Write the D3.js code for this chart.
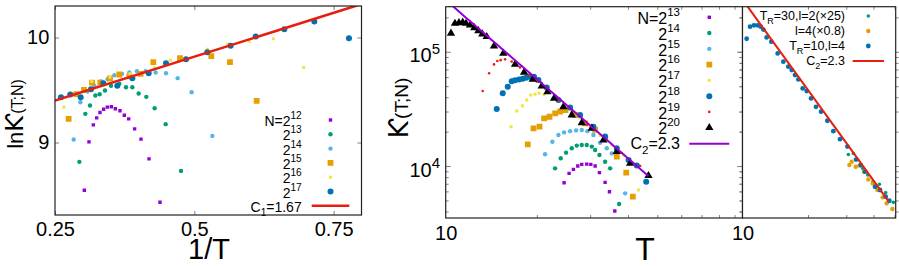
<!DOCTYPE html>
<html>
<head>
<meta charset="utf-8">
<script src="https://cdn.jsdelivr.net/npm/d3@7"></script>
<style>
  body { margin: 0; background: #fff; }
</style>
</head>
<body>
<script>
// ---------- panel 1 : ln K(T;N) against 1/T ----------
const p1N12 = [[0.3026,8.546],[0.3110,9.006],[0.3188,9.168],[0.3248,9.235],[0.3307,9.286],[0.3373,9.317],[0.3439,9.337],[0.3511,9.340],[0.3583,9.321],[0.3666,9.302],[0.3744,9.260],[0.3822,9.225],[0.3929,9.130],[0.4043,9.032],[0.4187,8.844],[0.4384,8.432]];
const p1N13 = [[0.2937,8.816],[0.3044,9.273],[0.3128,9.352],[0.3224,9.448],[0.3301,9.460],[0.3397,9.495],[0.3505,9.540],[0.3654,9.559],[0.3774,9.527],[0.3888,9.527],[0.4001,9.467],[0.4139,9.435],[0.4288,9.327],[0.4486,9.175],[0.4761,8.730]];
const p1N14 = [[0.2835,9.029],[0.2955,9.384],[0.3080,9.486],[0.3206,9.540],[0.3325,9.581],[0.3445,9.603],[0.3565,9.641],[0.3702,9.654],[0.3834,9.667],[0.3971,9.679],[0.4127,9.679],[0.4306,9.667],[0.4492,9.660],[0.4701,9.613],[0.4952,9.479],[0.5323,9.063]];
const p1N15 = [[0.2745,9.225],[0.2883,9.460],[0.3020,9.502],[0.3164,9.571],[0.3313,9.571],[0.3487,9.610],[0.3654,9.648],[0.3834,9.629],[0.4037,9.654],[0.4264,9.765],[0.4743,9.803],[0.5305,9.822],[0.5640,9.765],[0.6119,9.397]];
const p1N16 = [[0.2661,9.337],[0.2799,9.463],[0.3158,9.581],[0.3487,9.622],[0.3846,9.654],[0.4282,9.711],[0.4570,9.784],[0.5233,9.889],[0.5598,9.937],[0.5987,9.965],[0.6418,9.987],[0.6962,9.714]];
const p1N17 = [[0.2608,9.432],[0.2775,9.457],[0.2961,9.432],[0.3146,9.508],[0.3367,9.565],[0.3618,9.540],[0.3888,9.613],[0.4181,9.660],[0.4492,9.756],[0.4851,9.794],[0.5233,9.860],[0.5652,9.921],[0.6101,10.010],[0.6615,10.079],[0.7153,10.152],[0.7775,9.994]];
const p1Exps = ['12','13','14','15','16','17'];
const p1C1 = 1.67, p1Icpt = 8.9825;
const p1XTicks = [0.25, 0.5, 0.75], p1YTicks = [9, 10];

// ---------- panel 2 : K(T;N) against T, log-log ----------
const p2N13 = [[24.61,7140],[25.56,8630],[26.42,9350],[27.31,10000],[28.15,10350],[29.24,10400],[30.15,10350],[31.16,10000],[32.20,8750],[33.62,7200],[34.75,5960],[36.19,4040]];
const p2N14 = [[22.98,9550],[23.99,11700],[24.98,13100],[26.09,14300],[27.10,15100],[28.15,15300],[29.24,15300],[30.38,14800],[31.16,13800],[32.20,12500],[33.62,10900],[34.93,9550],[37.40,4660]];
const p2N15 = [[21.29,12700],[22.51,16300],[23.57,18700],[24.61,19700],[25.76,20200],[26.96,20500],[28.15,20700],[29.39,20200],[30.76,18700],[32.37,16000],[34.05,14300],[35.38,12900],[39.15,5770]];
const p2N16 = [[18.67,15500],[19.50,21400],[20.41,22100],[21.14,26100],[22.02,27000],[22.99,28900],[23.88,29900],[24.87,30900],[26.77,27900],[28.88,23600],[31.17,20700],[33.63,17500],[36.75,12100],[39.48,8750],[41.52,5390]];
const p2N17 = [[16.44,22100],[17.17,30300],[17.92,33700],[18.52,37800],[19.09,41800],[19.73,42400],[20.35,43300],[21.13,42100],[23.87,37200],[25.76,31300],[27.80,26300],[29.99,22100],[32.37,18500],[35.38,15200],[38.67,12400],[43.34,6170]];
const p2N18 = [[14.74,31600],[15.43,43300],[16.03,49500],[16.52,55100],[16.95,56200],[17.47,57300],[17.96,58100],[18.43,59300],[19.00,60500],[19.58,60500],[20.24,56500],[21.57,48800],[23.57,37800],[25.76,32600],[27.80,27900],[30.76,22100],[33.62,18100],[36.74,14300],[40.17,11300],[42.79,10100],[45.95,7300]];
const p2N19 = [[13.25,45300],[13.91,64800],[14.44,77500],[14.81,83000],[15.19,84500],[15.71,85800],[16.52,82000],[17.60,73000],[18.76,63000],[19.99,55000],[21.57,46500],[23.57,37500],[26.09,29500],[29.24,23000],[33.19,17600],[38.18,13000],[43.89,10000],[46.75,8230]];
const p2N20 = [[10.41,144900],[10.73,177000],[11.06,179500],[11.38,180800],[11.67,177000],[12.03,171300],[12.43,162300],[12.82,152800],[13.21,142900],[13.66,135500],[14.44,112200],[15.50,96800],[16.95,77600],[18.15,66000],[19.39,57300],[20.76,50100],[21.68,44700],[22.80,39100],[24.48,33000],[26.09,27900],[28.15,23900],[30.38,21400],[33.19,16900],[36.74,13400],[40.67,10550],[46.75,8230]];
const p2Exps = ['13','14','15','16','17','18','19','20'];
const p2C2 = 2.3, p2Amp = 5.66e7, p2TEnd = 46.75;
const p2XTicks = [10], p2YTicks = [1e4, 1e5];

// ---------- panel 3 : comparison runs ----------
const p3TR30 = [[30.66,12600],[32.33,12900],[33.73,11400],[35.69,9540],[37.63,8340],[39.68,7290],[42.57,6920],[45.51,5850],[49.38,4810]];
const p3L4 = [[30.99,10200],[31.76,10900],[33.14,9870],[34.44,10100],[36.19,8920],[37.89,7640],[39.68,7050],[41.70,6170],[44.10,5320],[46.00,4720],[48.85,4210]];
const p3TR10 = [[10.45,130000],[10.83,165700],[11.29,170300],[11.70,170300],[12.12,165700],[12.47,156300],[12.91,133600],[13.57,122500],[14.51,96800],[15.41,81900],[16.24,74000],[16.83,69200],[17.43,62500],[18.06,57300],[18.91,47800],[19.72,45300],[20.65,39100],[21.77,33000],[22.96,29900],[24.55,24900],[26.16,20200],[28.07,17200],[30.34,14800],[33.25,11400],[34.94,10200],[36.58,8920],[40.66,6590],[42.87,6170],[45.51,5390],[47.31,4970]];
const p3Fit = [[10.52,251000],[46.84,4940]];
const p3XTicks = [10];

const FONT = '"Liberation Sans", Arial, Helvetica, sans-serif';
const KFONT = '"DejaVu Sans", sans-serif';
const col = {purple:'#9400d3', green:'#009e73', sky:'#56b4e9', orange:'#e69f00',
             yellow:'#f0e442', blue:'#0072b2', red:'#e51e10', black:'#000000'};
const mk = {
    sqS:{shape:'square', s:3.4}, cM:{shape:'circle', r:2.2}, sqL:{shape:'square', s:5.8},
    sqXS:{shape:'square', s:3}, cL:{shape:'circle', r:3}, cXS:{shape:'circle', r:1.3},
    tri:{shape:'triangle', size:30}, cS:{shape:'circle', r:1.8}, cM2:{shape:'circle', r:2.4}
};

const svg = d3.select('body').append('svg')
    .attr('width', 899).attr('height', 266)
    .style('font-family', FONT);
svg.append('rect').attr('width', 899).attr('height', 266).attr('fill', '#fff');

function drawMarker(g, m, color, cx, cy) {
    if (m.shape === 'circle') {
        g.append('circle').attr('cx', cx).attr('cy', cy).attr('r', m.r).attr('fill', color);
    } else {
        const sym = m.shape === 'square' ? d3.symbolSquare : d3.symbolTriangle;
        const size = m.shape === 'square' ? m.s * m.s : m.size;
        g.append('path').attr('d', d3.symbol(sym, size)())
            .attr('transform', `translate(${cx},${cy})`).attr('fill', color);
    }
}

// text with sub/superscripts, parts = [{t, sup, sub, size, font}]
function rich(g, x, y, parts, size, anchor) {
    const t = g.append('text').attr('x', x).attr('y', y)
        .attr('font-size', size).attr('text-anchor', anchor || 'end')
        .attr('font-family', FONT).attr('fill', '#000');
    let shift = 0;
    parts.forEach(p => {
        const target = p.sup ? -size * 0.5 : p.sub ? size * 0.3 : 0;
        const ts = t.append('tspan').attr('dy', target - shift)
            .attr('font-size', p.size || (p.sup || p.sub ? size * 0.72 : size))
            .text(p.t);
        if (p.font) ts.attr('font-family', p.font);
        shift = target;
    });
    return t;
}

function tickMarks(g, axisFn, scale, vals, len, tx, ty) {
    const a = g.append('g').attr('transform', `translate(${tx},${ty})`)
        .call(axisFn(scale).tickValues(vals).tickSize(-len).tickFormat(''));
    a.select('.domain').remove();
    a.selectAll('.tick line').attr('stroke', '#808080');
    a.selectAll('.tick text').remove();
}

function tickLabels(g, axisFn, scale, vals, pad, tx, ty, size, fmt) {
    const a = g.append('g').attr('transform', `translate(${tx},${ty})`)
        .call(axisFn(scale).tickValues(vals).tickSize(0).tickPadding(pad).tickFormat(fmt));
    a.select('.domain').remove();
    a.selectAll('.tick line').remove();
    a.selectAll('.tick text').attr('font-size', size).attr('font-family', FONT).attr('fill', '#000');
    return a;
}

function logMinor(domain) {
    const out = [];
    for (let e = Math.floor(Math.log10(domain[0])); e <= Math.ceil(Math.log10(domain[1])); e++) {
        for (let m = 2; m < 10; m++) {
            const v = m * Math.pow(10, e);
            if (v > domain[0] && v < domain[1]) out.push(v);
        }
    }
    return out;
}

function makePanel(x, y, id) {
    const [x0, x1] = x.range(), [yb, yt] = y.range();
    const g = svg.append('g');
    g.append('rect').attr('x', x0).attr('y', yt).attr('width', x1 - x0).attr('height', yb - yt).attr('fill', '#fff');
    g.append('clipPath').attr('id', id).append('rect')
        .attr('x', x0).attr('y', yt).attr('width', x1 - x0).attr('height', yb - yt);
    return {g, x0, x1, yb, yt, plot: g.append('g').attr('clip-path', `url(#${id})`)};
}

function frame(P) {
    P.g.append('rect').attr('x', P.x0).attr('y', P.yt).attr('width', P.x1 - P.x0).attr('height', P.yb - P.yt)
        .attr('fill', 'none').attr('stroke', '#222').attr('stroke-width', 1.2);
}

function drawSeries(P, x, y, data, m, color) {
    data.forEach(d => drawMarker(P.plot, m, color, x(d[0]), y(d[1])));
}

// ================= panel 1 =================
const x1 = d3.scaleLinear().domain([0.25, 0.8]).range([55, 361.5]);
const y1 = d3.scaleLinear().domain([8.31, 10.30]).range([215, 6]);
const P1 = makePanel(x1, y1, 'clip1');
const p1Series = [
    {data:p1N12, m:mk.sqS, c:col.purple}, {data:p1N13, m:mk.cM, c:col.green},
    {data:p1N14, m:mk.cM, c:col.sky}, {data:p1N15, m:mk.sqL, c:col.orange},
    {data:p1N16, m:mk.sqXS, c:col.yellow}, {data:p1N17, m:mk.cL, c:col.blue}
];
p1Series.forEach(s => drawSeries(P1, x1, y1, s.data, s.m, s.c));
P1.plot.append('line')
    .attr('x1', x1(0.25)).attr('y1', y1(p1Icpt + p1C1 * 0.25))
    .attr('x2', x1(0.8)).attr('y2', y1(p1Icpt + p1C1 * 0.8))
    .attr('stroke', col.red).attr('stroke-width', 2.6);
tickMarks(P1.g, d3.axisBottom, x1, p1XTicks, 4, 0, 215);
tickMarks(P1.g, d3.axisTop, x1, p1XTicks, 4, 0, 6);
tickMarks(P1.g, d3.axisLeft, y1, p1YTicks, 4, 55, 0);
tickMarks(P1.g, d3.axisRight, y1, p1YTicks, 4, 361.5, 0);
frame(P1);
tickLabels(svg, d3.axisBottom, x1, p1XTicks, 7, 0, 215, 20, d => String(d));
tickLabels(svg, d3.axisLeft, y1, p1YTicks, 5.7, 55, 0, 20, d => String(d));

// legend 1
const leg1 = svg.append('g');
p1Series.forEach((s, i) => {
    const yy = 120 + i * 14.3;
    rich(leg1, 301.7, yy + 6, i === 0 ? [{t:'N=2'}, {t:p1Exps[i], sup:true}] : [{t:'2'}, {t:p1Exps[i], sup:true}], 14);
    drawMarker(leg1, s.m, s.c, 330.5, yy);
});
rich(leg1, 301.7, 205.7 + 6, [{t:'C'}, {t:'1', sub:true}, {t:'=1.67'}], 14);
leg1.append('line').attr('x1', 311.7).attr('x2', 349.3).attr('y1', 205.7).attr('y2', 205.7)
    .attr('stroke', col.red).attr('stroke-width', 2.6);

// axis titles 1
rich(svg, 209, 259, [{t:'1/T'}], 29, 'middle');
rich(svg.append('g').attr('transform', 'translate(23,114) rotate(-90)'), 0, 0,
    [{t:'ln', size:22}, {t:'\u0198', size:24, font:KFONT}, {t:'(T;N)', size:16}], 22, 'middle');

// ================= panel 2 =================
const x2 = d3.scaleLog().domain([10, 95.6]).range([445.7, 742.5]);
const y2 = d3.scaleLog().domain([3510, 2.48e5]).range([218, 6.7]);
const P2 = makePanel(x2, y2, 'clip2');
const p2Series = [
    {data:p2N13, m:mk.sqS, c:col.purple}, {data:p2N14, m:mk.cM, c:col.green},
    {data:p2N15, m:mk.cM, c:col.sky}, {data:p2N16, m:mk.sqL, c:col.orange},
    {data:p2N17, m:mk.sqXS, c:col.yellow}, {data:p2N18, m:mk.cL, c:col.blue},
    {data:p2N19, m:mk.cXS, c:col.red}, {data:p2N20, m:mk.tri, c:col.black}
];
p2Series.forEach(s => drawSeries(P2, x2, y2, s.data, s.m, s.c));
const p2Line = d3.range(0, 41).map(i => {
    const T = 10 * Math.pow(p2TEnd / 10, i / 40);
    return [T, p2Amp * Math.pow(T, -p2C2)];
});
P2.plot.append('path').attr('d', d3.line().x(d => x2(d[0])).y(d => y2(d[1]))(p2Line))
    .attr('fill', 'none').attr('stroke', col.purple).attr('stroke-width', 2);
tickMarks(P2.g, d3.axisBottom, x2, logMinor(x2.domain()), 3, 0, 218);
tickMarks(P2.g, d3.axisTop, x2, logMinor(x2.domain()), 3, 0, 6.7);
tickMarks(P2.g, d3.axisLeft, y2, logMinor(y2.domain()), 3, 445.7, 0);
tickMarks(P2.g, d3.axisLeft, y2, p2YTicks, 5, 445.7, 0);
tickMarks(P2.g, d3.axisRight, y2, p2YTicks, 5, 742.5, 0);
tickMarks(P2.g, d3.axisRight, y2, logMinor(y2.domain()), 3, 742.5, 0);
frame(P2);
tickLabels(svg, d3.axisBottom, x2, p2XTicks, 7.8, 0, 218, 20, d => String(d));
const yl2 = tickLabels(svg, d3.axisLeft, y2, p2YTicks, 5.7, 445.7, 0, 20, d => String(d));
yl2.selectAll('.tick text').each(function(d) {
    const t = d3.select(this).text(null).attr('dy', 10);
    t.append('tspan').text('10');
    t.append('tspan').attr('dy', -8.5).attr('font-size', 15).text(String(Math.round(Math.log10(d))));
});

// legend 2
const leg2 = svg.append('g');
p2Series.forEach((s, i) => {
    const yy = 17.3 + i * 15.77;
    rich(leg2, 680, yy + 6.8, i === 0 ? [{t:'N=2'}, {t:p2Exps[i], sup:true}] : [{t:'2'}, {t:p2Exps[i], sup:true}], 16);
    drawMarker(leg2, s.m, s.c, 709.3, yy);
});
rich(leg2, 680, 143.8 + 5.5, [{t:'C'}, {t:'2', sub:true}, {t:'=2.3'}], 16);
leg2.append('line').attr('x1', 689.3).attr('x2', 729.3).attr('y1', 143.8).attr('y2', 143.8)
    .attr('stroke', col.purple).attr('stroke-width', 2);

// axis titles 2
rich(svg, 645, 260, [{t:'T'}], 32, 'middle');
rich(svg.append('g').attr('transform', 'translate(408,108) rotate(-90)'), 0, 0,
    [{t:'\u0198', size:26, font:KFONT}, {t:'(T;N)', size:19}], 24, 'middle');

// ================= panel 3 =================
const x3 = d3.scaleLog().domain([10, 50.6]).range([742.5, 895.7]);
const y3 = d3.scaleLog().domain([3510, 2.48e5]).range([218, 6.7]);
const P3 = makePanel(x3, y3, 'clip3');
const p3Series = [
    {data:p3TR30, m:mk.cS, c:col.green, label:[{t:'T'}, {t:'R', sub:true}, {t:'=30,l=2(\u00d725)'}]},
    {data:p3L4, m:mk.cM, c:col.orange, label:[{t:'l=4(\u00d70.8)'}]},
    {data:p3TR10, m:mk.cM2, c:col.blue, label:[{t:'T'}, {t:'R', sub:true}, {t:'=10,l=4'}]}
];
p3Series.forEach(s => drawSeries(P3, x3, y3, s.data, s.m, s.c));
P3.plot.append('path').attr('d', d3.line().x(d => x3(d[0])).y(d => y3(d[1]))(p3Fit))
    .attr('fill', 'none').attr('stroke', col.red).attr('stroke-width', 2);
tickMarks(P3.g, d3.axisBottom, x3, logMinor(x3.domain()), 3, 0, 218);
tickMarks(P3.g, d3.axisTop, x3, logMinor(x3.domain()), 3, 0, 6.7);
tickMarks(P3.g, d3.axisRight, y3, logMinor(y3.domain()), 3, 742.5, 0);
tickMarks(P3.g, d3.axisRight, y3, p2YTicks, 5, 742.5, 0);
tickMarks(P3.g, d3.axisLeft, y3, p2YTicks, 5, 895.7, 0);
tickMarks(P3.g, d3.axisLeft, y3, logMinor(y3.domain()), 3, 895.7, 0);
frame(P3);
tickLabels(svg, d3.axisBottom, x3, p3XTicks, 7.8, 0, 218, 20, d => String(d));

// legend 3
const leg3 = svg.append('g');
p3Series.forEach((s, i) => {
    const yy = 16 + i * 15;
    rich(leg3, 845, yy + 4.3, s.label, 12.5);
    drawMarker(leg3, s.m, s.c, 868.3, yy);
});
rich(leg3, 845, 61 + 4.3, [{t:'C'}, {t:'2', sub:true}, {t:'=2.3'}], 12.5);
leg3.append('line').attr('x1', 852.7).attr('x2', 884).attr('y1', 61).attr('y2', 61)
    .attr('stroke', col.red).attr('stroke-width', 2);
</script>
</body>
</html>
